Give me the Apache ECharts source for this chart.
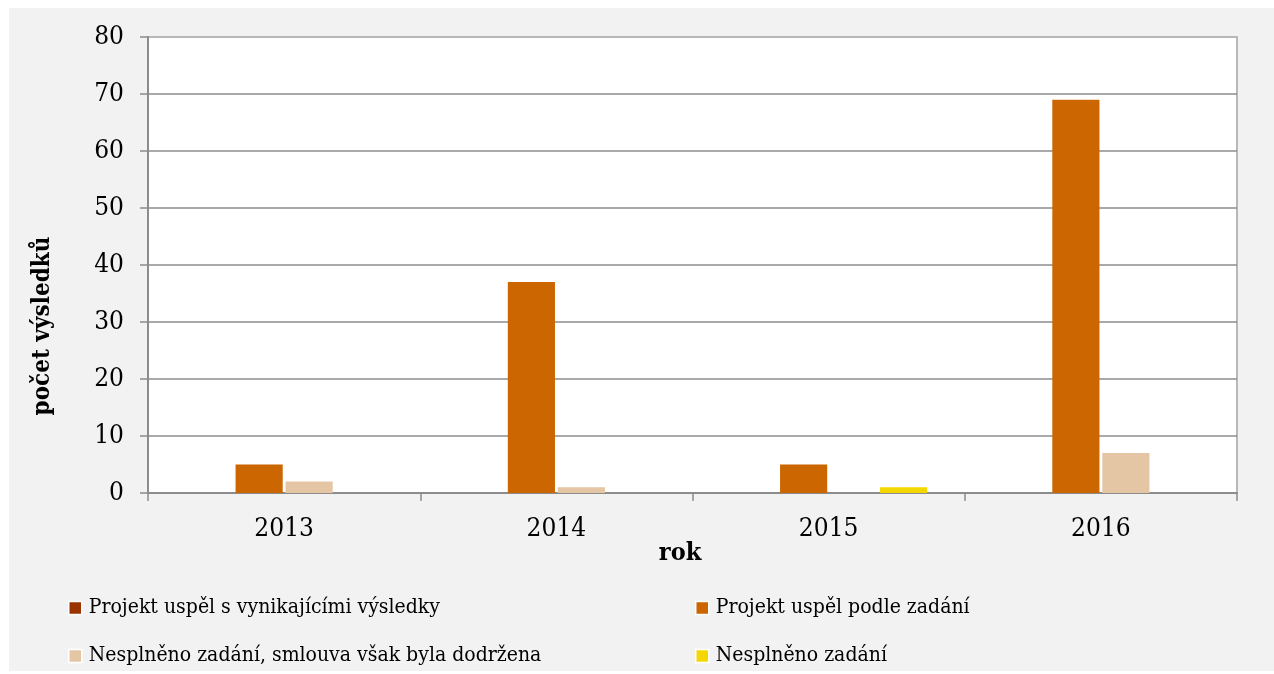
<!DOCTYPE html>
<html>
<head>
<meta charset="utf-8">
<script src="https://cdn.jsdelivr.net/npm/echarts@6/dist/echarts.min.js"></script>
<style>
html,body{margin:0;padding:0;background:#fff;width:1274px;height:674px;overflow:hidden;}
#chart{position:absolute;left:9px;top:8px;width:1265px;height:663px;background:#f2f2f2;}
</style>
</head>
<body>
<div id="chart"></div>
<script>
const categories = ['2013', '2014', '2015', '2016'];
const seriesNames = [
  'Projekt uspěl s vynikajícími výsledky',
  'Projekt uspěl podle zadání',
  'Nesplněno zadání, smlouva však byla dodržena',
  'Nesplněno zadání'
];
const vynikajici = [0, 0, 0, 0];
const podleZadani = [5, 37, 5, 69];
const smlouvaDodrzena = [2, 1, 0, 7];
const nesplneno = [0, 0, 1, 0];
const yTicks = [0, 10, 20, 30, 40, 50, 60, 70, 80];
const yAxisTitle = 'počet výsledků';
const xAxisTitle = 'rok';

const colors = ['#993300', '#cc6600', '#e4c6a4', '#f4d600'];
const FONT = "'DejaVu Serif Condensed', 'Liberation Serif', serif";
const dataSets = [vynikajici, podleZadani, smlouvaDodrzena, nesplneno];

function legendFor(i, left, top) {
  return {
    show: true, left: left, top: top, orient: 'horizontal', padding: 0,
    data: [seriesNames[i]],
    icon: 'rect', itemWidth: 13, itemHeight: 13, itemGap: 0,
    itemStyle: {borderColor: '#ffffff', borderWidth: 1.5},
    textStyle: {fontFamily: FONT, fontSize: 21, color: '#000', lineHeight: 24, padding: [0, 0, 0, 2]},
    selectedMode: false
  };
}

const chart = echarts.init(document.getElementById('chart'), null, {renderer: 'canvas'});
chart.setOption({
  animation: false,
  backgroundColor: '#f2f2f2',
  color: colors,
  textStyle: {fontFamily: FONT},
  grid: {
    left: 139, top: 29, right: 37, bottom: 178,
    show: true, backgroundColor: '#ffffff', borderColor: '#b8b8b8', borderWidth: 2
  },
  legend: [
    legendFor(0, 59, 588),
    legendFor(1, 686, 588),
    legendFor(2, 59, 636),
    legendFor(3, 686, 636)
  ],
  xAxis: {
    type: 'category',
    data: categories,
    axisLine: {show: true, lineStyle: {color: '#8c8c8c', width: 2}},
    axisTick: {show: true, alignWithLabel: false, interval: 0, length: 8, lineStyle: {color: '#8c8c8c', width: 1.5}},
    axisLabel: {fontFamily: FONT, fontSize: 26, color: '#000', margin: 23},
    splitLine: {show: false}
  },
  yAxis: {
    type: 'value',
    min: yTicks[0], max: yTicks[yTicks.length - 1], interval: yTicks[1] - yTicks[0],
    axisLine: {show: true, lineStyle: {color: '#8c8c8c', width: 2}},
    axisTick: {show: true, length: 8, lineStyle: {color: '#8c8c8c', width: 1.5}},
    axisLabel: {fontFamily: FONT, fontSize: 26, color: '#000', margin: 24},
    splitLine: {show: true, showMaxLine: false, lineStyle: {color: '#8c8c8c', width: 1.5}}
  },
  graphic: [
    {type: 'text', x: 34, y: 318, rotation: Math.PI / 2,
      style: {text: yAxisTitle, fontFamily: FONT, fontSize: 24, fontWeight: 'bold', fill: '#000', align: 'center', verticalAlign: 'middle'}},
    {type: 'text', x: 671, y: 545,
      style: {text: xAxisTitle, fontFamily: FONT, fontSize: 25, fontWeight: 'bold', fill: '#000', align: 'center', verticalAlign: 'middle'}}
  ],
  series: dataSets.map((d, i) => ({
    name: seriesNames[i],
    type: 'bar',
    data: d,
    barGap: '6%',
    barCategoryGap: '27.6%',
    itemStyle: {color: colors[i]}
  }))
});
</script>
</body>
</html>
